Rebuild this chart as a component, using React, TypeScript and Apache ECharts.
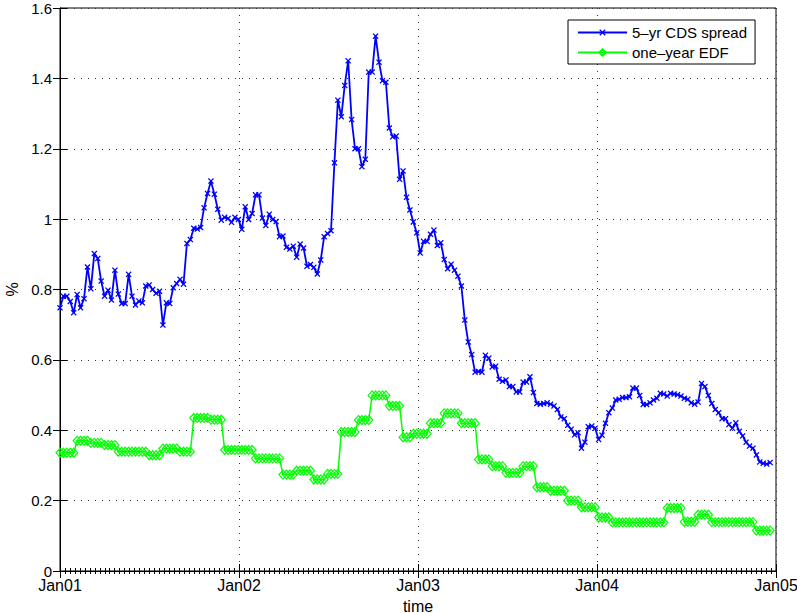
import { useEffect, useRef } from "react";
import * as echarts from "echarts";

// Weekly 5-year CDS spread (%), first observation in the first week of January 2001
const cdsSpread = [
  0.748, 0.781, 0.781, 0.766, 0.734, 0.786, 0.748, 0.774, 0.864, 0.802,
  0.902, 0.888, 0.824, 0.781, 0.798, 0.770, 0.855, 0.787, 0.760, 0.760,
  0.843, 0.781, 0.756, 0.767, 0.762, 0.810, 0.813, 0.800, 0.789, 0.795,
  0.699, 0.762, 0.760, 0.805, 0.817, 0.829, 0.815, 0.931, 0.942, 0.974,
  0.972, 0.976, 1.032, 1.073, 1.108, 1.071, 1.028, 0.997, 1.005, 1.002,
  0.991, 1.005, 0.999, 0.971, 1.035, 0.999, 1.016, 1.069, 1.069, 1.003,
  0.982, 1.014, 0.999, 0.993, 0.950, 0.952, 0.920, 0.915, 0.923, 0.892,
  0.929, 0.918, 0.866, 0.871, 0.863, 0.844, 0.884, 0.950, 0.959, 0.967,
  1.160, 1.338, 1.291, 1.380, 1.450, 1.283, 1.200, 1.200, 1.149, 1.170,
  1.418, 1.418, 1.520, 1.446, 1.393, 1.389, 1.259, 1.234, 1.236, 1.113,
  1.137, 1.062, 1.026, 0.992, 0.961, 0.904, 0.937, 0.937, 0.957, 0.969,
  0.925, 0.933, 0.885, 0.859, 0.872, 0.855, 0.838, 0.810, 0.713, 0.651,
  0.615, 0.565, 0.567, 0.565, 0.613, 0.605, 0.580, 0.582, 0.545, 0.539,
  0.543, 0.524, 0.524, 0.509, 0.509, 0.537, 0.537, 0.552, 0.507, 0.476,
  0.474, 0.476, 0.478, 0.474, 0.469, 0.459, 0.438, 0.433, 0.414, 0.403,
  0.387, 0.393, 0.349, 0.366, 0.410, 0.412, 0.406, 0.374, 0.386, 0.420,
  0.450, 0.463, 0.486, 0.488, 0.493, 0.493, 0.495, 0.520, 0.520, 0.499,
  0.473, 0.473, 0.478, 0.486, 0.491, 0.505, 0.503, 0.497, 0.505, 0.503,
  0.501, 0.497, 0.491, 0.488, 0.478, 0.474, 0.480, 0.533, 0.524, 0.499,
  0.476, 0.459, 0.450, 0.433, 0.433, 0.416, 0.406, 0.421, 0.397, 0.384,
  0.366, 0.355, 0.349, 0.330, 0.310, 0.306, 0.304, 0.308,
];

// Weekly one-year EDF (%), updated monthly
const oneYearEdf = [
  0.336, 0.336, 0.336, 0.336, 0.336, 0.370, 0.370, 0.370, 0.370, 0.364,
  0.364, 0.364, 0.364, 0.358, 0.358, 0.358, 0.358, 0.339, 0.339, 0.339,
  0.339, 0.339, 0.339, 0.339, 0.339, 0.339, 0.329, 0.329, 0.329, 0.329,
  0.348, 0.348, 0.348, 0.348, 0.348, 0.339, 0.339, 0.339, 0.339, 0.435,
  0.435, 0.435, 0.435, 0.435, 0.430, 0.430, 0.430, 0.430, 0.344, 0.344,
  0.344, 0.344, 0.344, 0.344, 0.344, 0.344, 0.344, 0.320, 0.320, 0.320,
  0.320, 0.320, 0.320, 0.320, 0.320, 0.274, 0.274, 0.274, 0.274, 0.285,
  0.285, 0.285, 0.285, 0.285, 0.260, 0.260, 0.260, 0.260, 0.276, 0.276,
  0.276, 0.276, 0.395, 0.395, 0.395, 0.395, 0.395, 0.429, 0.429, 0.429,
  0.429, 0.499, 0.499, 0.499, 0.499, 0.499, 0.469, 0.469, 0.469, 0.469,
  0.380, 0.380, 0.380, 0.390, 0.390, 0.390, 0.390, 0.390, 0.420, 0.420,
  0.420, 0.420, 0.448, 0.448, 0.448, 0.448, 0.448, 0.420, 0.420, 0.420,
  0.420, 0.420, 0.317, 0.317, 0.317, 0.317, 0.298, 0.298, 0.298, 0.298,
  0.279, 0.279, 0.279, 0.279, 0.279, 0.298, 0.298, 0.298, 0.298, 0.238,
  0.238, 0.238, 0.238, 0.228, 0.228, 0.228, 0.228, 0.228, 0.200, 0.200,
  0.200, 0.200, 0.181, 0.181, 0.181, 0.181, 0.181, 0.152, 0.152, 0.152,
  0.152, 0.138, 0.138, 0.138, 0.138, 0.138, 0.138, 0.138, 0.138, 0.138,
  0.138, 0.138, 0.138, 0.138, 0.138, 0.138, 0.138, 0.179, 0.179, 0.179,
  0.179, 0.179, 0.140, 0.140, 0.140, 0.140, 0.160, 0.160, 0.160, 0.160,
  0.139, 0.139, 0.139, 0.139, 0.139, 0.139, 0.139, 0.139, 0.139, 0.139,
  0.139, 0.139, 0.139, 0.115, 0.115, 0.115, 0.115, 0.115,
];

const yearLabels = ["Jan01", "Jan02", "Jan03", "Jan04", "Jan05"];
const seriesNames = ["5–yr CDS spread", "one–year EDF"];

const DAYS_PER_WEEK = 7;
const DAYS_PER_YEAR = 365.25;

const FONT = "'Liberation Sans', Arial, Helvetica, sans-serif";
const CROSS =
  "path://M0,1.5L1.5,0L5,3.5L8.5,0L10,1.5L6.5,5L10,8.5L8.5,10L5,6.5L1.5,10L0,8.5L3.5,5Z";

export default function App() {
  const ref = useRef<HTMLDivElement>(null);

  useEffect(() => {
    if (!ref.current) return;
    const chart = echarts.init(ref.current, undefined, { renderer: "svg" });

    // x position in years since Jan 2001
    const yearsAt = (i: number) => (i * DAYS_PER_WEEK) / DAYS_PER_YEAR;

    const gridLine = {
      show: true,
      lineStyle: { color: "#333", width: 1, type: [1, 6] as number[] },
    };
    const blackLine = { show: true, lineStyle: { color: "#000", width: 1 } };

    chart.setOption({
      animation: false,
      backgroundColor: "#fff",
      textStyle: { fontFamily: FONT },
      grid: {
        left: 60,
        right: 21,
        top: 8,
        bottom: 42,
        containLabel: false,
        outerBoundsMode: "none",
        show: true,
        borderColor: "#000",
        borderWidth: 1,
        backgroundColor: "#fff",
      },
      legend: {
        orient: "vertical",
        left: 568,
        top: 20,
        padding: [5, 8, 4, 9],
        itemGap: 5,
        itemWidth: 49,
        itemHeight: 8,
        backgroundColor: "#fff",
        borderColor: "#000",
        borderWidth: 1,
        borderRadius: 0,
        textStyle: { fontFamily: FONT, fontSize: 15, color: "#000", padding: [0, 0, 0, 0] },
        data: seriesNames,
      },
      xAxis: [
        {
          type: "value",
          min: 0,
          max: 4,
          interval: 1,
          position: "bottom",
          axisLine: blackLine,
          axisTick: { show: true, inside: true, length: 7, lineStyle: { color: "#000" } },
          minorTick: { show: true, splitNumber: 36, length: 3, lineStyle: { color: "#000" } },
          axisLabel: {
            color: "#000",
            fontSize: 16,
            fontFamily: FONT,
            lineHeight: 16,
            margin: 6,
            formatter: (v: number) => yearLabels[Math.round(v)] ?? "",
          },
          splitLine: gridLine,
          name: "time",
          nameLocation: "middle",
          nameGap: 27,
          nameTextStyle: { color: "#000", fontSize: 16, fontFamily: FONT },
        },
        {
          type: "value",
          min: 0,
          max: 4,
          interval: 1,
          position: "top",
          axisLine: blackLine,
          axisTick: { show: true, inside: true, length: 7, lineStyle: { color: "#000" } },
          minorTick: { show: true, splitNumber: 36, length: 3, lineStyle: { color: "#000" } },
          axisLabel: { show: false },
          splitLine: { show: false },
        },
      ],
      yAxis: [
        {
          type: "value",
          min: 0,
          max: 1.6,
          interval: 0.2,
          position: "left",
          axisLine: blackLine,
          axisTick: { show: true, inside: true, length: 7, lineStyle: { color: "#000" } },
          axisLabel: {
            color: "#000",
            fontSize: 15,
            fontFamily: FONT,
            lineHeight: 12,
            margin: 8,
            formatter: (v: number) => String(Number(v.toFixed(1))),
          },
          splitLine: gridLine,
          name: "%",
          nameLocation: "middle",
          nameGap: 38,
          nameTextStyle: { color: "#000", fontSize: 16, fontFamily: FONT },
        },
        {
          type: "value",
          min: 0,
          max: 1.6,
          interval: 0.2,
          position: "right",
          axisLine: blackLine,
          axisTick: { show: true, inside: true, length: 7, lineStyle: { color: "#000" } },
          axisLabel: { show: false },
          splitLine: { show: false },
        },
      ],
      series: [
        {
          name: seriesNames[0],
          type: "line",
          xAxisIndex: 0,
          yAxisIndex: 0,
          data: cdsSpread.map((v, i) => [yearsAt(i), v]),
          symbol: CROSS,
          symbolSize: 6,
          showAllSymbol: true,
          lineStyle: { color: "#0000ff", width: 1.8 },
          itemStyle: { color: "#0000ff" },
          emphasis: { disabled: true },
          z: 3,
        },
        {
          name: seriesNames[1],
          type: "line",
          xAxisIndex: 0,
          yAxisIndex: 0,
          data: oneYearEdf.map((v, i) => [yearsAt(i), v]),
          symbol: "diamond",
          symbolSize: [8, 9],
          showAllSymbol: true,
          lineStyle: { color: "#00ff00", width: 1.5 },
          itemStyle: { color: "rgba(0,255,0,0)", borderColor: "#00ff00", borderWidth: 1.2 },
          emphasis: { disabled: true },
          z: 2,
        },
      ],
    });

    return () => chart.dispose();
  }, []);

  return (
    <div
      ref={ref}
      style={{ position: "fixed", left: 0, top: 0, width: 797, height: 613 }}
    />
  );
}
